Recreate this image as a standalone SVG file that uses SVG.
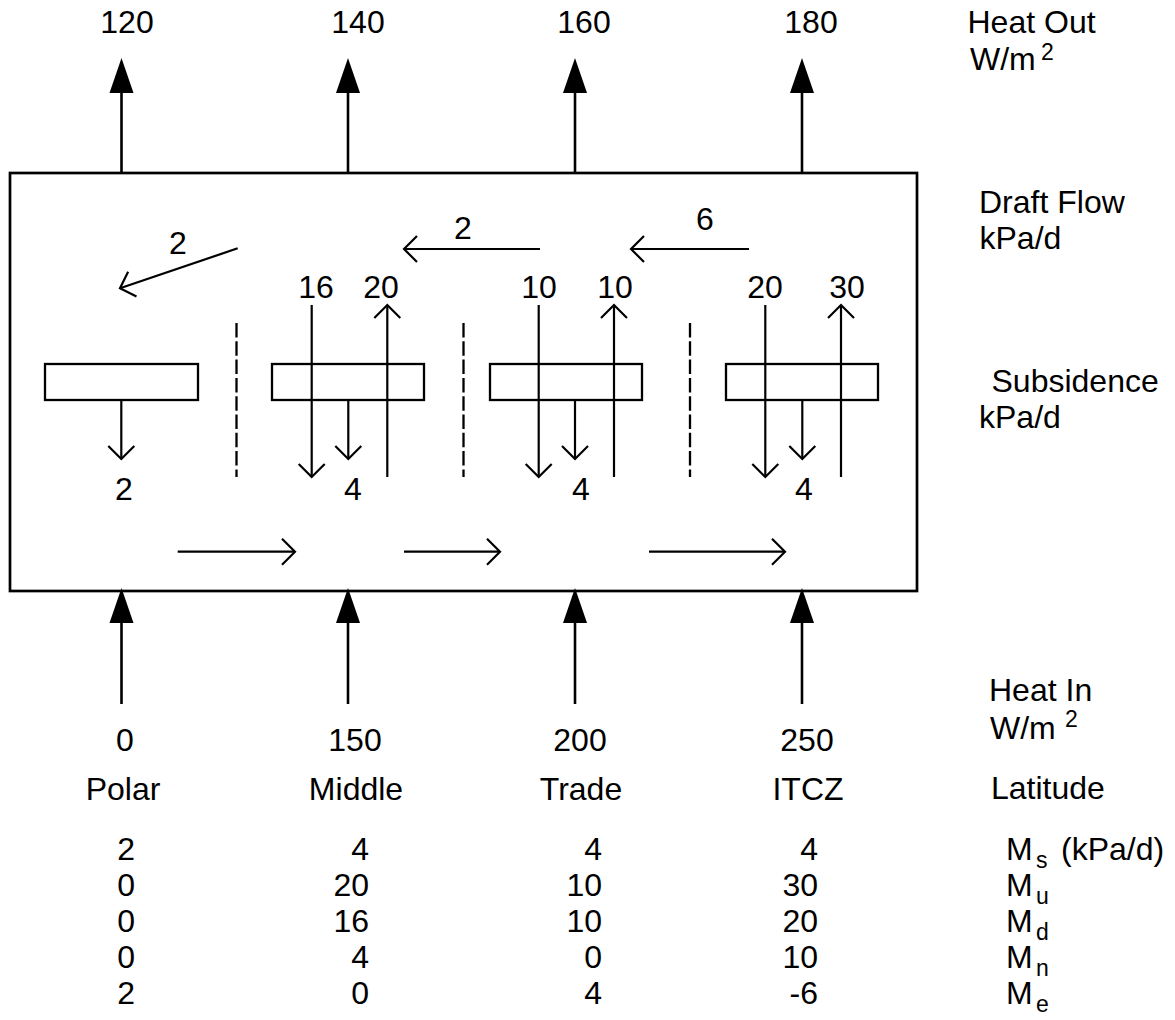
<svg xmlns="http://www.w3.org/2000/svg" width="1175" height="1020" viewBox="0 0 1175 1020">
<style>
text{font-family:"Liberation Sans",Arial,sans-serif;font-size:32px;fill:#000}
.m{text-anchor:middle}
.e{text-anchor:end}
.s{font-size:23px}
.heat{stroke:#000;stroke-width:2.6;fill:none}
.flow{stroke:#000;stroke-width:2.2;fill:none}
.zone{stroke:#000;stroke-width:2.3;fill:#fff}
.dash{stroke:#000;stroke-width:2.3;stroke-dasharray:14.5 3.8;fill:none}
</style>
<defs>
<marker id="solid" markerUnits="userSpaceOnUse" markerWidth="36" markerHeight="24" refX="0" refY="12" orient="auto" overflow="visible">
<path d="M0,0 L35,12 L0,24 Z" fill="#000"/>
</marker>
<marker id="open" markerUnits="userSpaceOnUse" markerWidth="16" markerHeight="28" refX="13" refY="13" orient="auto" overflow="visible">
<path d="M0,0 L13,13 L0,26" fill="none" stroke="#000" stroke-width="2.2"/>
</marker>
</defs>
<rect width="1175" height="1020" fill="#fff"/>

<g id="frame">
<rect x="10" y="173" width="907" height="418" fill="none" stroke="#000" stroke-width="2.7"/>
</g>

<g id="zone-polar">
<rect class="zone" x="45" y="364" width="153" height="36"/>
</g>
<g id="zone-middle">
<rect class="zone" x="272" y="364" width="152" height="36"/>
</g>
<g id="zone-trade">
<rect class="zone" x="490" y="364" width="152" height="36"/>
</g>
<g id="zone-itcz">
<rect class="zone" x="726" y="364" width="152" height="36"/>
</g>

<g id="dividers">
<line class="dash" x1="236.5" y1="323" x2="236.5" y2="477"/>
<line class="dash" x1="463.5" y1="323" x2="463.5" y2="477"/>
<line class="dash" x1="690" y1="323" x2="690" y2="477"/>
</g>

<g id="connectors">
<line class="heat" x1="121.5" y1="173" x2="121.5" y2="93" marker-end="url(#solid)"/>
<line class="heat" x1="348" y1="173" x2="348" y2="93" marker-end="url(#solid)"/>
<line class="heat" x1="575" y1="173" x2="575" y2="93" marker-end="url(#solid)"/>
<line class="heat" x1="802" y1="173" x2="802" y2="93" marker-end="url(#solid)"/>
<line class="heat" x1="121.5" y1="704" x2="121.5" y2="623" marker-end="url(#solid)"/>
<line class="heat" x1="348" y1="704" x2="348" y2="623" marker-end="url(#solid)"/>
<line class="heat" x1="575" y1="704" x2="575" y2="623" marker-end="url(#solid)"/>
<line class="heat" x1="802" y1="704" x2="802" y2="623" marker-end="url(#solid)"/>
<line class="flow" x1="237.7" y1="248.3" x2="120" y2="288.3" marker-end="url(#open)"/>
<line class="flow" x1="540" y1="249" x2="404" y2="249" marker-end="url(#open)"/>
<line class="flow" x1="749" y1="249" x2="631" y2="249" marker-end="url(#open)"/>
<line class="flow" x1="177.7" y1="551.7" x2="295" y2="551.7" marker-end="url(#open)"/>
<line class="flow" x1="404" y1="551.7" x2="500" y2="551.7" marker-end="url(#open)"/>
<line class="flow" x1="649" y1="551.7" x2="785" y2="551.7" marker-end="url(#open)"/>
<line class="flow" x1="121.3" y1="400" x2="121.3" y2="459" marker-end="url(#open)"/>
<line class="flow" x1="348.3" y1="400" x2="348.3" y2="459" marker-end="url(#open)"/>
<line class="flow" x1="575" y1="400" x2="575" y2="459" marker-end="url(#open)"/>
<line class="flow" x1="802.3" y1="400" x2="802.3" y2="459" marker-end="url(#open)"/>
<line class="flow" x1="311.7" y1="305" x2="311.7" y2="477" marker-end="url(#open)"/>
<line class="flow" x1="538.7" y1="305" x2="538.7" y2="477" marker-end="url(#open)"/>
<line class="flow" x1="765.3" y1="305" x2="765.3" y2="477" marker-end="url(#open)"/>
<line class="flow" x1="387.3" y1="477" x2="387.3" y2="305" marker-end="url(#open)"/>
<line class="flow" x1="614" y1="477" x2="614" y2="305" marker-end="url(#open)"/>
<line class="flow" x1="841" y1="477" x2="841" y2="305" marker-end="url(#open)"/>
</g>

<g id="labels">
<text class="m" x="127" y="33">120</text>
<text class="m" x="358" y="33">140</text>
<text class="m" x="584" y="33">160</text>
<text class="m" x="811" y="33">180</text>

<text class="m" x="178" y="254">2</text>
<text class="m" x="463" y="239">2</text>
<text class="m" x="705" y="230">6</text>

<text class="m" x="316" y="298">16</text>
<text class="m" x="381" y="298">20</text>
<text class="m" x="539" y="298">10</text>
<text class="m" x="615" y="298">10</text>
<text class="m" x="765" y="298">20</text>
<text class="m" x="847" y="298">30</text>

<text class="m" x="124" y="500">2</text>
<text class="m" x="353" y="500">4</text>
<text class="m" x="581" y="500">4</text>
<text class="m" x="804" y="500">4</text>

<text class="m" x="125" y="751">0</text>
<text class="m" x="355" y="751">150</text>
<text class="m" x="580" y="751">200</text>
<text class="m" x="807" y="751">250</text>

<text class="m" x="123" y="800">Polar</text>
<text class="m" x="356" y="800">Middle</text>
<text class="m" x="581" y="800">Trade</text>
<text class="m" x="808" y="800">ITCZ</text>

<text class="e" x="135" y="860">2</text>
<text class="e" x="135" y="896">0</text>
<text class="e" x="135" y="932">0</text>
<text class="e" x="135" y="968">0</text>
<text class="e" x="135" y="1004">2</text>

<text class="e" x="369" y="860">4</text>
<text class="e" x="369" y="896">20</text>
<text class="e" x="369" y="932">16</text>
<text class="e" x="369" y="968">4</text>
<text class="e" x="369" y="1004">0</text>

<text class="e" x="602" y="860">4</text>
<text class="e" x="602" y="896">10</text>
<text class="e" x="602" y="932">10</text>
<text class="e" x="602" y="968">0</text>
<text class="e" x="602" y="1004">4</text>

<text class="e" x="818" y="860">4</text>
<text class="e" x="818" y="896">30</text>
<text class="e" x="818" y="932">20</text>
<text class="e" x="818" y="968">10</text>
<text class="e" x="818" y="1004">-6</text>
</g>

<g id="legend">
<text x="967.5" y="33">Heat Out</text>
<text x="970" y="70">W/m</text>
<text class="s" x="1041" y="60">2</text>

<text x="979" y="213">Draft Flow</text>
<text x="979.5" y="249">kPa/d</text>

<text x="991.5" y="392">Subsidence</text>
<text x="979" y="428">kPa/d</text>

<text x="989" y="701">Heat In</text>
<text x="990" y="739">W/m</text>
<text class="s" x="1065" y="727">2</text>

<text x="991" y="799">Latitude</text>

<text x="1006" y="860">M</text><text class="s" x="1036" y="868">s</text><text x="1061" y="860">(kPa/d)</text>
<text x="1006" y="896">M</text><text class="s" x="1036" y="904">u</text>
<text x="1006" y="932">M</text><text class="s" x="1036" y="940">d</text>
<text x="1006" y="968">M</text><text class="s" x="1036" y="976">n</text>
<text x="1006" y="1004">M</text><text class="s" x="1036" y="1012">e</text>
</g>
</svg>
